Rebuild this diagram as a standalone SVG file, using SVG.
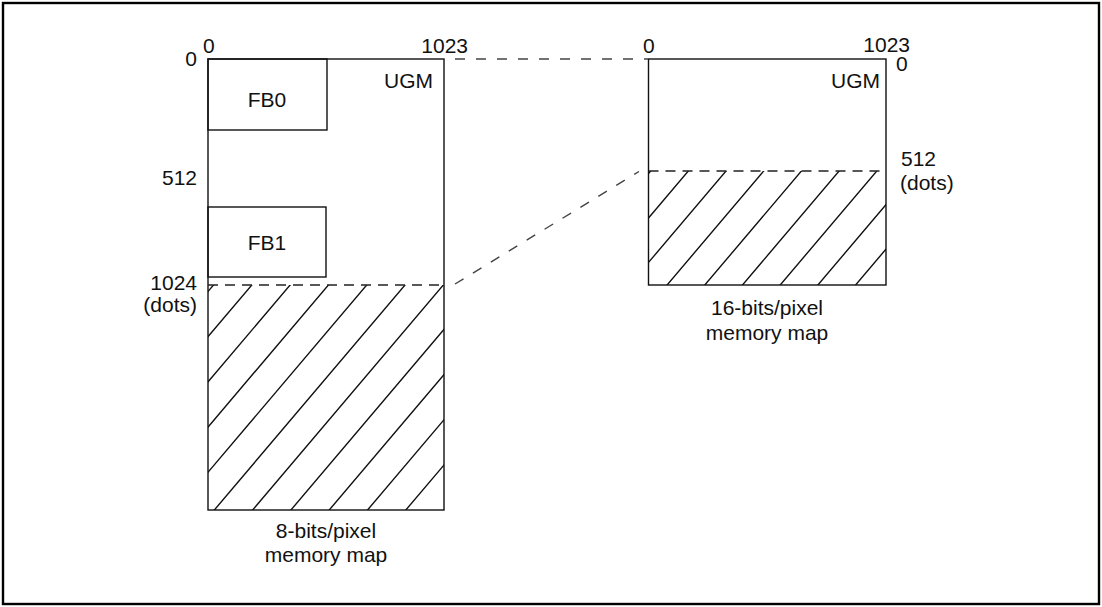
<svg xmlns="http://www.w3.org/2000/svg" width="1102" height="607" viewBox="0 0 1102 607">
<style>
text{font-family:"Liberation Sans",Arial,sans-serif;font-size:21px;fill:#111}
.box{fill:none;stroke:#111;stroke-width:1.4}
.hatch{fill:none;stroke:#111;stroke-width:1.4}
.dash{fill:none;stroke:#222;stroke-width:1.3;stroke-dasharray:10 7}
.conn{fill:none;stroke:#444;stroke-width:1.4;stroke-dasharray:10 11}
</style>
<defs>
<clipPath id="clipL"><rect x="208" y="285" width="236" height="225"/></clipPath>
<clipPath id="clipR"><rect x="648.5" y="171" width="237.5" height="114"/></clipPath>
</defs>
<rect x="3" y="3" width="1096" height="601" fill="#fff" stroke="#000" stroke-width="2.4"/>

<g id="map8">
<g clip-path="url(#clipL)" class="hatch">
<path d="M222,275L14.35,520M260.3,275L52.65,520M298.6,275L90.95,520M336.9,275L129.25,520M375.2,275L167.55,520M413.5,275L205.85,520M451.8,275L244.15,520M490.1,275L282.45,520M528.4,275L320.75,520M566.7,275L359.05,520M605,275L397.35,520M643.3,275L435.65,520"/>
</g>
<rect class="box" x="208" y="59" width="236" height="451"/>
<line class="dash" x1="208" y1="285" x2="444" y2="285"/>
<text x="197" y="66" text-anchor="end">0</text>
<text x="203" y="53">0</text>
<text x="468" y="53" text-anchor="end">1023</text>
<text x="433" y="88" text-anchor="end">UGM</text>
<text x="197" y="185" text-anchor="end">512</text>
<text x="197" y="290" text-anchor="end">1024</text>
<text x="197" y="312" text-anchor="end">(dots)</text>
<text x="326" y="538" text-anchor="middle">8-bits/pixel</text>
<text x="326" y="562" text-anchor="middle">memory map</text>
</g>

<g id="fb0">
<rect class="box" x="208" y="59" width="119" height="71"/>
<text x="267" y="107" text-anchor="middle">FB0</text>
</g>

<g id="fb1">
<rect class="box" x="208" y="207" width="118" height="70"/>
<text x="267" y="250" text-anchor="middle">FB1</text>
</g>

<g id="map16">
<g clip-path="url(#clipR)" class="hatch">
<path d="M655.7,165L545.5,295M693.4,165L583.2,295M731.1,165L620.9,295M768.8,165L658.6,295M806.5,165L696.3,295M844.2,165L734,295M881.9,165L771.7,295M919.6,165L809.4,295M957.3,165L847.1,295M995,165L884.8,295"/>
</g>
<rect class="box" x="648.5" y="59" width="237.5" height="226"/>
<line class="dash" x1="648.5" y1="171" x2="886" y2="171"/>
<text x="643" y="53">0</text>
<text x="910" y="52" text-anchor="end">1023</text>
<text x="896" y="71">0</text>
<text x="880" y="88" text-anchor="end">UGM</text>
<text x="901" y="166">512</text>
<text x="900" y="190">(dots)</text>
<text x="767" y="315" text-anchor="middle">16-bits/pixel</text>
<text x="767" y="340" text-anchor="middle">memory map</text>
</g>

<g id="connectors">
<line class="conn" x1="455" y1="59" x2="648" y2="59"/>
<line class="conn" x1="455" y1="284" x2="639" y2="171.5"/>
</g>
</svg>
